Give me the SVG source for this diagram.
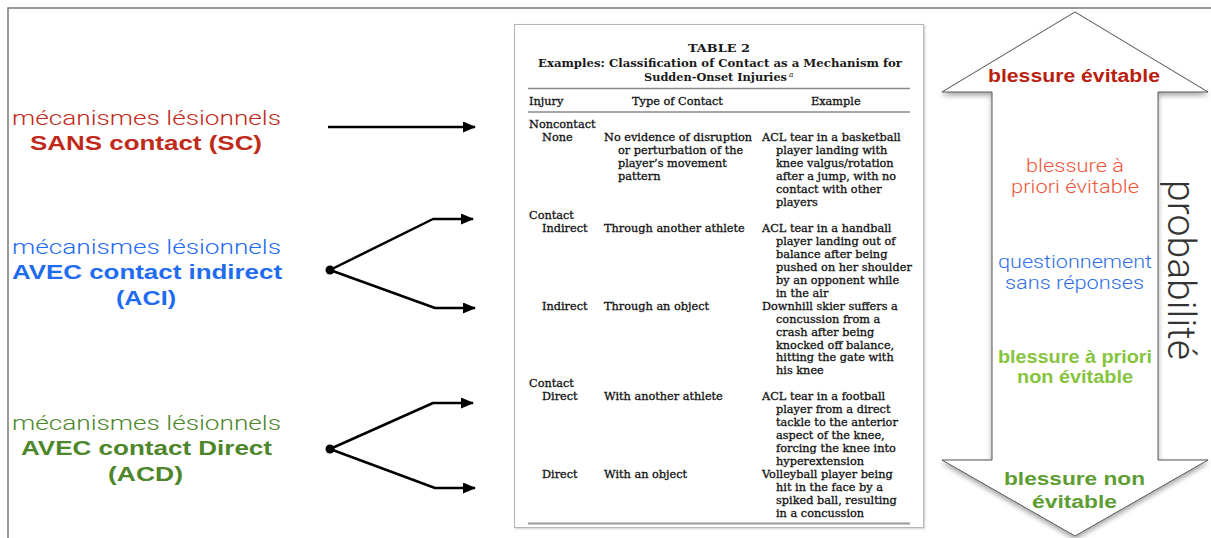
<svg xmlns="http://www.w3.org/2000/svg" width="1211" height="538" viewBox="0 0 1211 538">
<defs>
<style>
.light{font-family:Roboto,"Liberation Sans",sans-serif;font-weight:300;font-size:21px}
.bold{font-family:"Liberation Sans",Arial,sans-serif;font-weight:bold;font-size:21px}
.rl{font-family:Roboto,"Liberation Sans",sans-serif;font-weight:300;font-size:18px}
.rb{font-family:"Liberation Sans",Arial,sans-serif;font-weight:bold;font-size:18px}
.tb{font-family:"DejaVu Serif","Liberation Serif",serif;font-size:11.3px;fill:#111;stroke:#111;stroke-width:0.3}
.tt{font-family:"DejaVu Serif","Liberation Serif",serif;font-size:11.5px;font-weight:bold;fill:#1a1a1a}
.conn{fill:none;stroke:#000;stroke-width:2.5;stroke-linejoin:round}
.rule{stroke:#8a8a8a;stroke-width:1.3}
</style>
<marker id="ah" markerUnits="userSpaceOnUse" markerWidth="13" markerHeight="11" refX="12" refY="5.5" orient="auto">
<path d="M0,0 L13,5.5 L0,11 Z" fill="#000"/>
</marker>
<filter id="sh" x="-10%" y="-10%" width="120%" height="120%">
<feDropShadow dx="0" dy="3" stdDeviation="2.5" flood-color="#000" flood-opacity="0.35"/>
</filter>
<filter id="sh2" x="-5%" y="-5%" width="110%" height="110%">
<feDropShadow dx="1" dy="1" stdDeviation="1" flood-color="#000" flood-opacity="0.2"/>
</filter>
</defs>
<rect width="1211" height="538" fill="#fff"/>
<path id="frame" d="M8,538 L8,8 L1211,8" fill="none" stroke="#7a7a7a" stroke-width="1.5"/>

<g id="node-sc" fill="#bf2a1b">
<text class="light" x="12" y="125" textLength="269" lengthAdjust="spacingAndGlyphs">mécanismes lésionnels</text>
<text class="bold" x="30" y="150" textLength="232" lengthAdjust="spacingAndGlyphs">SANS contact (SC)</text>
</g>
<g id="node-aci" fill="#1f6cf2">
<text class="light" x="12" y="254" textLength="269" lengthAdjust="spacingAndGlyphs">mécanismes lésionnels</text>
<text class="bold" x="12" y="279" textLength="270" lengthAdjust="spacingAndGlyphs">AVEC contact indirect</text>
<text class="bold" x="116" y="305" textLength="60" lengthAdjust="spacingAndGlyphs">(ACI)</text>
</g>
<g id="node-acd" fill="#4d862b">
<text class="light" x="12" y="430" textLength="269" lengthAdjust="spacingAndGlyphs">mécanismes lésionnels</text>
<text class="bold" x="21" y="455" textLength="251" lengthAdjust="spacingAndGlyphs">AVEC contact Direct</text>
<text class="bold" x="108" y="481" textLength="75" lengthAdjust="spacingAndGlyphs">(ACD)</text>
</g>

<g id="connectors">
<path class="conn" d="M328,127 L475,127" marker-end="url(#ah)"/>
<path class="conn" d="M330,270 L433,219 L473,219" marker-end="url(#ah)"/>
<path class="conn" d="M330,270 L435,308 L475,308" marker-end="url(#ah)"/>
<path class="conn" d="M330,449 L433,403 L473,403" marker-end="url(#ah)"/>
<path class="conn" d="M330,449 L435,488 L475,488" marker-end="url(#ah)"/>
<circle cx="330" cy="270" r="4.5" fill="#000"/>
<circle cx="330" cy="449" r="4.5" fill="#000"/>
</g>

<g id="table">
<rect x="514.5" y="24.5" width="409" height="503" fill="#fff" stroke="#b5b5b5" stroke-width="1" filter="url(#sh2)"/>
<text class="tt" x="688" y="52" textLength="62" lengthAdjust="spacingAndGlyphs">TABLE 2</text>
<text class="tt" x="538" y="67" textLength="364" lengthAdjust="spacingAndGlyphs">Examples: Classification of Contact as a Mechanism for</text>
<text class="tt" x="644" y="81" textLength="143" lengthAdjust="spacingAndGlyphs">Sudden-Onset Injuries</text>
<text x="789" y="77" font-family="'DejaVu Serif','Liberation Serif',serif" font-style="italic" font-size="7.5" fill="#1a1a1a">a</text>
<line class="rule" x1="528" y1="88.5" x2="910" y2="88.5"/>
<text class="tb" x="529" y="105">Injury</text>
<text class="tb" x="632" y="105">Type of Contact</text>
<text class="tb" x="811" y="105">Example</text>
<line class="rule" x1="528" y1="112" x2="910" y2="112"/>

<text class="tb" x="529" y="128">Noncontact</text>
<text class="tb" x="542" y="141">None</text>
<text class="tb" y="141"><tspan x="604">No evidence of disruption</tspan><tspan x="618" dy="12.97">or perturbation of the</tspan><tspan x="618" dy="12.97">player’s movement</tspan><tspan x="618" dy="12.97">pattern</tspan></text>
<text class="tb" y="141"><tspan x="762">ACL tear in a basketball</tspan><tspan x="776" dy="12.97">player landing with</tspan><tspan x="776" dy="12.97">knee valgus/rotation</tspan><tspan x="776" dy="12.97">after a jump, with no</tspan><tspan x="776" dy="12.97">contact with other</tspan><tspan x="776" dy="12.97">players</tspan></text>

<text class="tb" x="529" y="218.8">Contact</text>
<text class="tb" x="542" y="231.8">Indirect</text>
<text class="tb" x="604" y="231.8">Through another athlete</text>
<text class="tb" y="231.8"><tspan x="762">ACL tear in a handball</tspan><tspan x="776" dy="12.97">player landing out of</tspan><tspan x="776" dy="12.97">balance after being</tspan><tspan x="776" dy="12.97">pushed on her shoulder</tspan><tspan x="776" dy="12.97">by an opponent while</tspan><tspan x="776" dy="12.97">in the air</tspan></text>

<text class="tb" x="542" y="309.6">Indirect</text>
<text class="tb" x="604" y="309.6">Through an object</text>
<text class="tb" y="309.6"><tspan x="762">Downhill skier suffers a</tspan><tspan x="776" dy="12.97">concussion from a</tspan><tspan x="776" dy="12.97">crash after being</tspan><tspan x="776" dy="12.97">knocked off balance,</tspan><tspan x="776" dy="12.97">hitting the gate with</tspan><tspan x="776" dy="12.97">his knee</tspan></text>

<text class="tb" x="529" y="387.4">Contact</text>
<text class="tb" x="542" y="400.4">Direct</text>
<text class="tb" x="604" y="400.4">With another athlete</text>
<text class="tb" y="400.4"><tspan x="762">ACL tear in a football</tspan><tspan x="776" dy="12.97">player from a direct</tspan><tspan x="776" dy="12.97">tackle to the anterior</tspan><tspan x="776" dy="12.97">aspect of the knee,</tspan><tspan x="776" dy="12.97">forcing the knee into</tspan><tspan x="776" dy="12.97">hyperextension</tspan></text>

<text class="tb" x="542" y="478.2">Direct</text>
<text class="tb" x="604" y="478.2">With an object</text>
<text class="tb" y="478.2"><tspan x="762">Volleyball player being</tspan><tspan x="776" dy="12.97">hit in the face by a</tspan><tspan x="776" dy="12.97">spiked ball, resulting</tspan><tspan x="776" dy="12.97">in a concussion</tspan></text>
<line x1="528" y1="523.5" x2="910" y2="523.5" stroke="#999" stroke-width="2"/>
</g>

<g id="scale-arrow">
<path d="M1075,12 L1208,92 L1158,92 L1158,460 L1208,460 L1075,536 L942,460 L992,460 L992,92 L942,92 Z" fill="#fff" stroke="#555" stroke-width="1" filter="url(#sh)"/>
<text class="rb" x="988" y="82" fill="#b8200f" textLength="172" lengthAdjust="spacingAndGlyphs">blessure évitable</text>
<text class="rl" x="1026" y="172" fill="#f0563a" textLength="98" lengthAdjust="spacingAndGlyphs">blessure à</text>
<text class="rl" x="1011" y="193" fill="#f0563a" textLength="128" lengthAdjust="spacingAndGlyphs">priori évitable</text>
<text class="rl" x="998" y="268" fill="#2f6fe6" textLength="154" lengthAdjust="spacingAndGlyphs">questionnement</text>
<text class="rl" x="1005" y="289" fill="#2f6fe6" textLength="139" lengthAdjust="spacingAndGlyphs">sans réponses</text>
<text class="rb" x="998" y="363" fill="#86c440" textLength="154" lengthAdjust="spacingAndGlyphs">blessure à priori</text>
<text class="rb" x="1017" y="383" fill="#86c440" textLength="116" lengthAdjust="spacingAndGlyphs">non évitable</text>
<text class="rb" x="1004" y="485" fill="#5e9d34" textLength="141" lengthAdjust="spacingAndGlyphs">blessure non</text>
<text class="rb" x="1032" y="508" fill="#5e9d34" textLength="85" lengthAdjust="spacingAndGlyphs">évitable</text>
</g>
<text id="probabilite" transform="translate(1168,180) rotate(90)" font-family="Roboto,'Liberation Sans',sans-serif" font-weight="300" font-size="38" fill="#333" textLength="180" lengthAdjust="spacingAndGlyphs">probabilité</text>
</svg>
